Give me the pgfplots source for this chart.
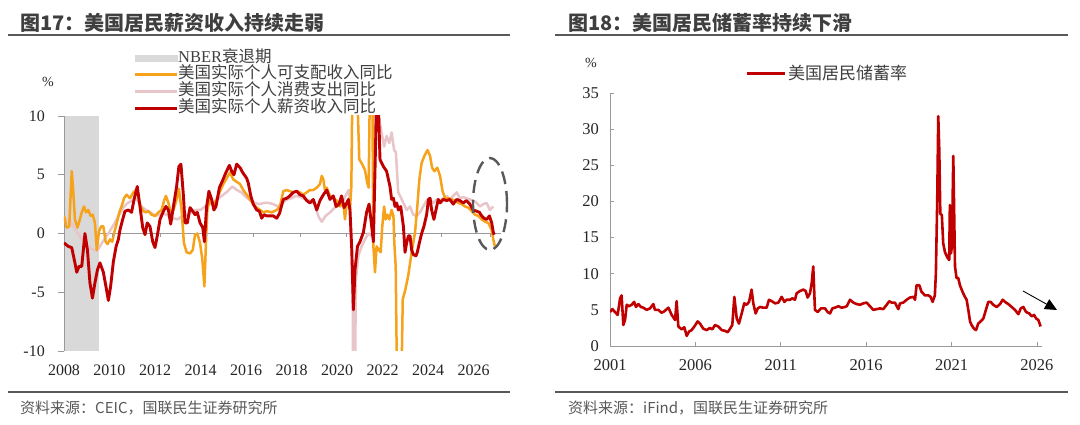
\documentclass[border=0pt]{standalone}
\usepackage{fontspec}
\setmainfont{Liberation Serif}
\newfontfamily\cjk{Noto Sans CJK SC}
\usepackage{pgfplots}
\pgfplotsset{compat=1.18}
\usetikzlibrary{arrows.meta}
\definecolor{cOrange}{HTML}{F7A21B}
\definecolor{cPink}{HTML}{E8C5C9}
\definecolor{cRed}{HTML}{C00000}
\definecolor{cBar}{HTML}{D9D9D9}
\definecolor{cTitle}{HTML}{3F3F3F}
\definecolor{cRule}{HTML}{595959}
\definecolor{cAxis}{HTML}{9A9A9A}

\pgfplotstableread{
x y
2008.00 -0.8
2008.19 -1.1
2008.34 -1.2
2008.48 -2.5
2008.56 -3.3
2008.66 -2.8
2008.78 -2.8
2008.92 0.0
2009.03 -1.4
2009.14 -4.2
2009.25 -5.5
2009.36 -4.2
2009.47 -3.1
2009.58 -2.5
2009.73 -3.3
2009.88 -4.9
2009.95 -5.7
2010.05 -4.5
2010.17 -2.4
2010.29 -1.1
2010.39 -0.5
2010.46 0.3
2010.58 1.2
2010.68 1.9
2010.83 2.0
2010.97 1.8
2011.08 2.9
2011.22 4.0
2011.34 2.3
2011.46 0.5
2011.56 -0.1
2011.66 0.9
2011.78 0.6
2011.90 -0.7
2012.00 -1.2
2012.10 -0.2
2012.22 1.2
2012.37 1.9
2012.48 2.3
2012.59 2.0
2012.69 0.8
2012.81 2.3
2012.95 4.0
2013.05 5.7
2013.14 5.9
2013.25 3.2
2013.32 0.9
2013.42 0.9
2013.54 2.2
2013.66 1.9
2013.76 1.6
2013.86 1.8
2013.98 0.9
2014.10 0.5
2014.17 -0.7
2014.27 2.3
2014.37 3.6
2014.49 2.9
2014.59 2.0
2014.68 2.3
2014.83 3.9
2014.97 4.5
2015.12 5.2
2015.27 5.8
2015.37 5.3
2015.47 5.0
2015.59 5.9
2015.74 5.6
2015.85 5.2
2016.03 4.7
2016.10 4.3
2016.21 3.2
2016.32 2.5
2016.47 2.0
2016.59 1.9
2016.69 1.3
2016.79 1.6
2016.91 1.5
2017.05 1.5
2017.20 1.5
2017.35 1.3
2017.47 1.7
2017.64 2.9
2017.79 3.0
2017.93 3.2
2018.08 3.5
2018.23 3.6
2018.37 3.3
2018.52 3.2
2018.67 2.8
2018.81 2.6
2018.96 2.9
2019.11 2.0
2019.25 2.8
2019.40 3.3
2019.55 3.7
2019.69 2.9
2019.84 3.2
2019.96 2.3
2020.09 2.5
2020.20 3.2
2020.31 2.2
2020.43 2.6
2020.50 2.9
2020.57 2.0
2020.65 -1.4
2020.72 -6.5
2020.79 -3.1
2020.90 -1.1
2021.01 -0.7
2021.16 0.1
2021.30 1.8
2021.41 2.5
2021.49 1.2
2021.60 -0.7
2021.70 8.0
2021.75 13.0
2021.82 11.0
2021.89 6.3
2022.04 5.7
2022.18 5.3
2022.33 4.0
2022.40 2.9
2022.48 3.0
2022.55 2.3
2022.62 2.6
2022.70 2.0
2022.80 2.3
2022.92 0.6
2022.99 -1.6
2023.06 -0.8
2023.14 -0.2
2023.21 -0.2
2023.28 -1.4
2023.36 -1.8
2023.47 -1.9
2023.53 -1.6
2023.62 -0.8
2023.72 0.0
2023.82 0.6
2023.94 1.6
2024.02 2.9
2024.09 3.0
2024.16 2.0
2024.26 1.2
2024.35 2.0
2024.45 2.9
2024.53 2.6
2024.67 2.9
2024.82 2.8
2024.96 2.9
2025.11 2.5
2025.26 2.9
2025.40 2.8
2025.55 2.6
2025.69 2.8
2025.84 2.5
2025.98 2.0
2026.14 1.9
2026.26 1.8
2026.36 1.5
2026.46 1.3
2026.58 1.2
2026.70 1.5
2026.80 0.9
2026.87 0.1
2026.91 -0.1
}\wage

\pgfplotstableread{
x y
2008.00 1.5
2008.12 0.5
2008.23 0.6
2008.34 5.3
2008.41 3.5
2008.48 1.2
2008.59 0.5
2008.67 1.0
2008.78 1.8
2008.88 2.3
2008.97 1.8
2009.07 2.0
2009.17 1.5
2009.26 1.6
2009.36 0.9
2009.44 -1.4
2009.54 0.2
2009.63 0.6
2009.73 0.6
2009.83 -0.7
2009.92 -0.9
2010.02 -0.5
2010.12 -0.7
2010.21 0.1
2010.31 0.8
2010.43 1.8
2010.53 2.3
2010.64 3.0
2010.75 3.3
2010.90 3.0
2011.05 3.5
2011.16 3.7
2011.27 3.0
2011.37 2.3
2011.49 1.9
2011.60 1.8
2011.71 1.9
2011.85 1.6
2012.00 1.5
2012.15 1.8
2012.29 2.0
2012.40 2.8
2012.48 3.2
2012.59 2.6
2012.69 1.8
2012.81 2.0
2012.95 2.9
2013.05 3.8
2013.17 2.0
2013.27 -0.8
2013.39 -1.6
2013.54 -1.7
2013.66 -1.4
2013.76 -0.1
2013.86 0.0
2013.98 -0.8
2014.08 -2.2
2014.17 -4.5
2014.24 -0.8
2014.30 2.0
2014.42 3.0
2014.56 2.3
2014.71 2.9
2014.86 3.6
2015.00 4.2
2015.15 4.7
2015.30 5.2
2015.44 4.6
2015.59 4.4
2015.74 4.2
2015.88 3.7
2016.03 3.3
2016.18 2.9
2016.32 2.5
2016.47 2.2
2016.62 2.0
2016.76 1.8
2016.91 1.9
2017.13 1.8
2017.35 2.0
2017.49 2.3
2017.64 3.6
2017.79 3.7
2017.93 3.6
2018.08 3.5
2018.23 3.6
2018.37 3.5
2018.52 3.3
2018.67 3.5
2018.81 3.7
2018.96 3.7
2019.11 3.9
2019.25 4.2
2019.33 4.9
2019.40 4.6
2019.47 3.7
2019.55 3.9
2019.69 3.2
2019.84 3.0
2019.99 2.8
2020.13 2.3
2020.28 2.6
2020.35 1.2
2020.43 2.6
2020.50 2.8
2020.57 2.0
2020.63 4.0
2020.68 13.0
2020.79 13.0
2020.89 12.0
2020.98 6.3
2021.08 6.0
2021.23 5.4
2021.33 4.3
2021.39 3.9
2021.45 13.0
2021.55 13.0
2021.60 -1.1
2021.67 -3.3
2021.74 -1.1
2021.84 -1.4
2021.92 -1.6
2021.99 0.6
2022.07 2.3
2022.14 1.2
2022.21 1.6
2022.30 1.2
2022.40 2.0
2022.48 1.5
2022.52 -0.8
2022.58 -2.8
2022.64 -13.0
2022.83 -13.0
2022.89 -5.6
2023.00 -4.8
2023.13 -3.6
2023.28 -1.6
2023.43 0.1
2023.53 2.3
2023.62 4.6
2023.72 6.0
2023.84 6.6
2023.98 7.1
2024.09 6.6
2024.18 5.6
2024.28 5.3
2024.41 5.6
2024.53 4.9
2024.64 3.6
2024.75 3.0
2024.90 3.0
2025.04 2.9
2025.19 2.8
2025.33 2.6
2025.48 2.5
2025.63 2.3
2025.77 2.2
2025.92 1.9
2026.07 1.6
2026.21 1.5
2026.36 1.2
2026.51 1.0
2026.65 0.9
2026.80 0.3
2026.87 -0.5
2026.94 -1.1
}\income

\pgfplotstableread{
x y
2008.00 1.3
2008.30 1.0
2008.60 0.0
2008.90 -0.8
2009.20 -1.3
2009.45 -1.5
2009.70 -0.7
2009.95 0.0
2010.20 0.8
2010.40 1.5
2010.60 2.2
2010.80 2.6
2011.00 2.8
2011.20 2.9
2011.40 2.3
2011.60 2.0
2011.80 1.8
2012.00 1.5
2012.20 1.6
2012.40 1.7
2012.60 1.5
2012.80 1.3
2013.00 1.2
2013.20 1.5
2013.40 1.6
2013.60 1.8
2013.80 2.0
2014.00 2.0
2014.20 2.3
2014.40 2.5
2014.60 2.7
2014.80 3.0
2015.00 3.3
2015.20 3.6
2015.40 4.0
2015.60 3.7
2015.80 3.5
2016.00 3.1
2016.20 2.8
2016.40 2.6
2016.60 2.5
2016.80 2.6
2017.00 2.6
2017.20 2.5
2017.40 2.3
2017.60 2.6
2017.80 2.9
2018.00 3.0
2018.20 3.2
2018.40 3.1
2018.60 2.9
2018.80 2.8
2019.00 2.5
2019.20 1.4
2019.33 1.0
2019.50 1.5
2019.70 1.8
2019.90 2.2
2020.10 2.4
2020.30 2.9
2020.45 3.5
2020.52 3.7
2020.57 2.3
2020.64 -1.4
2020.69 -5.6
2020.71 -13.0
2020.79 -13.0
2020.83 -3.9
2020.94 -1.9
2021.08 -1.1
2021.23 -0.5
2021.38 0.0
2021.52 -0.2
2021.60 0.6
2021.67 8.9
2021.74 10.5
2021.86 9.7
2021.96 8.6
2022.07 7.4
2022.18 8.3
2022.30 7.7
2022.40 8.6
2022.51 7.1
2022.59 6.9
2022.69 3.5
2022.77 3.2
2022.92 2.6
2023.06 2.0
2023.21 2.3
2023.35 1.6
2023.50 1.5
2023.65 1.8
2023.79 2.3
2023.94 2.8
2024.09 2.9
2024.23 2.6
2024.38 2.9
2024.53 2.8
2024.67 3.0
2024.82 3.2
2024.96 2.9
2025.11 3.2
2025.26 3.5
2025.40 3.0
2025.55 3.1
2025.69 3.0
2025.84 2.9
2025.99 2.8
2026.14 2.6
2026.28 2.3
2026.43 2.5
2026.58 2.6
2026.72 2.0
2026.87 2.3
}\consumption

\pgfplotstableread{
x y
2001.00 4.7
2001.14 5.1
2001.29 4.7
2001.45 4.3
2001.59 6.6
2001.68 7.0
2001.78 2.9
2001.88 3.6
2001.98 5.7
2002.11 5.5
2002.27 5.7
2002.41 6.1
2002.52 5.4
2002.66 5.8
2002.81 5.4
2002.95 5.3
2003.15 5.0
2003.34 5.2
2003.54 5.8
2003.63 5.0
2003.83 5.0
2004.02 4.6
2004.18 4.8
2004.42 5.3
2004.61 4.3
2004.81 3.6
2004.90 6.2
2005.00 2.7
2005.20 2.3
2005.35 2.6
2005.49 1.4
2005.63 2.0
2005.78 2.2
2005.94 2.7
2006.13 3.4
2006.27 3.1
2006.46 2.4
2006.66 2.2
2006.85 2.5
2006.99 2.3
2007.15 2.9
2007.34 2.7
2007.54 2.2
2007.73 2.1
2007.89 1.9
2008.03 2.4
2008.16 2.9
2008.28 6.8
2008.42 3.8
2008.55 3.1
2008.71 4.5
2008.86 5.9
2009.00 5.7
2009.14 6.1
2009.29 7.8
2009.39 5.9
2009.53 4.5
2009.65 5.2
2009.78 5.4
2009.98 5.3
2010.17 5.3
2010.31 6.4
2010.47 6.2
2010.66 5.9
2010.86 6.0
2011.05 6.8
2011.21 6.1
2011.34 6.4
2011.54 6.4
2011.68 6.6
2011.83 6.4
2011.93 7.3
2012.12 7.6
2012.32 7.8
2012.46 7.6
2012.57 6.7
2012.71 7.3
2012.81 8.7
2012.90 11.0
2013.00 5.0
2013.16 4.7
2013.35 5.2
2013.59 5.2
2013.74 4.7
2013.88 4.5
2014.02 5.2
2014.17 5.3
2014.37 5.5
2014.56 5.3
2014.76 5.4
2014.86 5.5
2015.05 6.4
2015.25 6.0
2015.44 5.8
2015.64 5.7
2015.83 5.9
2016.03 6.0
2016.22 5.5
2016.42 5.0
2016.61 5.1
2016.81 5.2
2017.00 5.1
2017.20 5.7
2017.35 6.2
2017.49 6.0
2017.68 6.0
2017.88 5.1
2017.98 5.9
2018.17 6.0
2018.37 6.4
2018.56 6.7
2018.76 6.8
2018.86 6.4
2018.95 8.4
2019.11 8.4
2019.24 7.5
2019.44 7.0
2019.64 7.0
2019.77 6.8
2019.89 6.1
2020.02 7.0
2020.08 10.0
2020.16 20.2
2020.22 31.8
2020.28 27.1
2020.34 18.3
2020.43 18.1
2020.51 14.2
2020.61 13.0
2020.74 12.3
2020.86 11.9
2020.90 19.5
2020.96 12.8
2021.02 13.7
2021.10 26.3
2021.20 11.0
2021.29 9.4
2021.39 9.4
2021.49 8.4
2021.64 7.5
2021.78 6.8
2021.88 6.4
2021.98 5.0
2022.08 3.4
2022.17 2.9
2022.31 2.4
2022.43 2.2
2022.56 3.1
2022.70 3.4
2022.86 3.8
2023.01 5.0
2023.15 6.1
2023.29 6.1
2023.44 5.7
2023.64 5.4
2023.84 5.8
2023.99 6.4
2024.13 6.1
2024.32 5.8
2024.52 5.4
2024.71 5.0
2024.91 4.4
2025.05 5.2
2025.20 5.4
2025.36 4.7
2025.55 4.5
2025.69 4.1
2025.83 4.3
2025.95 3.8
2026.08 3.6
2026.21 2.7
}\saving

\begin{document}
\begin{tikzpicture}[x=1pt,y=1pt]
\useasboundingbox (0,0) rectangle (1080,425);
\fill[white] (0,0) rectangle (1080,425);

% ---- headers and footers
\node[anchor=base west, inner sep=0pt, text=cTitle, font=\cjk\bfseries\fontsize{20}{22}\selectfont] at (20,394) {图17：美国居民薪资收入持续走弱};
\node[anchor=base west, inner sep=0pt, text=cTitle, font=\cjk\bfseries\fontsize{20}{22}\selectfont] at (568,394) {图18：美国居民储蓄率持续下滑};
\draw[cRule, line width=2pt] (8,390) -- (510,390);
\draw[cRule, line width=2pt] (555,390) -- (1068,390);
\draw[cRule, line width=1.5pt] (8,33) -- (510,33);
\draw[cRule, line width=1.5pt] (555,33) -- (1068,33);
\node[anchor=west, inner sep=0pt, text=cRule, font=\cjk\fontsize{15}{18}\selectfont] at (20,17) {资料来源：CEIC，国联民生证券研究所};
\node[anchor=west, inner sep=0pt, text=cRule, font=\cjk\fontsize{15}{18}\selectfont] at (568,17) {资料来源：iFind，国联民生证券研究所};
\node[inner sep=0pt, font=\fontsize{14}{16}\selectfont, text=black!85] at (48,343) {\%};
\node[inner sep=0pt, font=\fontsize{14}{16}\selectfont, text=black!85] at (591,362) {\%};

% ---- left chart
\begin{axis}[at={(64pt,74pt)}, anchor=south west, scale only axis,
  width=436.8pt, height=235pt,
  xmin=2008, xmax=2027.2, ymin=-10, ymax=10,
  axis y line*=left, axis x line*=bottom,
  axis line style={cAxis, line width=0.8pt},
  x axis line style={draw=none},
  ytick={-10,-5,0,5,10}, yticklabels={-10,-5,0,5,10},
  xtick={2008,2010,2012,2014,2016,2018,2020,2022,2024,2026},
  xticklabels={2008,2010,2012,2014,2016,2018,2020,2022,2024,2026},
  xtick style={draw=none},
  ytick style={cAxis, line width=0.8pt},
  tick align=outside, major tick length=6pt,
  tick label style={font=\fontsize{16}{18}\selectfont, text=black!85},
  yticklabel style={inner sep=0pt, xshift=-13pt},
  xticklabel style={inner sep=0pt, yshift=-8pt},
  extra y ticks={0}, extra y tick labels={},
  extra y tick style={grid=major, major grid style={cAxis, line width=0.8pt}, tick style={draw=none}},
  legend cell align=left,
  legend style={at={(0.158,1.277)}, anchor=north west, draw=none, fill=none, inner sep=0pt,
    row sep=2.7pt, font=\cjk\fontsize{16.5}{17}\selectfont, text=cTitle,
    nodes={inner sep=0pt, text height=11pt, text depth=3pt},
    /tikz/every even column/.append style={column sep=3pt}},
]
\addlegendimage{legend image code/.code={\fill[cBar] (0pt,-3pt) rectangle (42pt,3pt);}}
\addlegendentry{{\rmfamily NBER}衰退期}
\addlegendimage{legend image code/.code={\draw[cOrange, line width=3pt] (0pt,0pt) -- (42pt,0pt);}}
\addlegendentry{美国实际个人可支配收入同比}
\addlegendimage{legend image code/.code={\draw[cPink, line width=3pt] (0pt,0pt) -- (42pt,0pt);}}
\addlegendentry{美国实际个人消费支出同比}
\addlegendimage{legend image code/.code={\draw[cRed, line width=3pt] (0pt,0pt) -- (42pt,0pt);}}
\addlegendentry{美国实际个人薪资收入同比}

\addplot[fill=cBar, draw=none, forget plot] coordinates {(2008.04,-10) (2008.04,10) (2009.55,10) (2009.55,-10)} -- cycle;
\addplot[cPink, line width=2.5pt, line join=round, forget plot] table[x=x,y=y] {\consumption};
\addplot[cOrange, line width=2.5pt, line join=round, forget plot] table[x=x,y=y] {\income};
\addplot[cRed, line width=2.9pt, line join=round, forget plot] table[x=x,y=y] {\wage};
\pgfplotsinvokeforeach{2010.14,2012.22,2014.27,2016.32,2018.37,2020.42,2022.55,2024.60,2026.73}{
  \draw[cAxis, line width=0.8pt] (axis cs:#1,0) -- ++(0pt,-4pt);
}
\end{axis}
\draw[dash pattern=on 13pt off 7pt, line width=2.4pt, black!65] (490,221) ellipse (17 and 46);

% ---- right chart
\begin{axis}[at={(610pt,79pt)}, anchor=south west, scale only axis,
  width=432.1pt, height=253pt,
  xmin=2001, xmax=2026.3, ymin=0, ymax=35,
  axis lines*=left,
  axis line style={cAxis, line width=0.8pt},
  xtick={2001,2006,2011,2016,2021,2026},
  xticklabels={2001,2006,2011,2016,2021,2026},
  ytick={0,5,10,15,20,25,30,35},
  yticklabels={0,5,10,15,20,25,30,35},
  tick align=inside, major tick length=4pt,
  tick style={cAxis, line width=0.8pt},
  tick label style={font=\fontsize{16.5}{18}\selectfont, text=black!85},
  yticklabel style={inner sep=0pt, xshift=-11pt},
  xticklabel style={inner sep=0pt, yshift=-13pt},
  legend cell align=left,
  legend style={at={(0.3125,1.119)}, anchor=north west, draw=none, fill=none, inner sep=0pt,
    font=\cjk\fontsize{17}{18}\selectfont, text=cTitle,
    /tikz/every even column/.append style={column sep=5pt}},
]
\addlegendimage{legend image code/.code={\draw[cRed, line width=3pt] (0pt,0pt) -- (38pt,0pt);}}
\addlegendentry{美国居民储蓄率}
\addplot[cRed, line width=2.6pt, line join=round, forget plot] table[x=x,y=y] {\saving};
\end{axis}
\draw[black, line width=0.9pt, -{Triangle[length=12pt,width=11pt]}] (1023,134) -- (1057,115);
\end{tikzpicture}
\end{document}
